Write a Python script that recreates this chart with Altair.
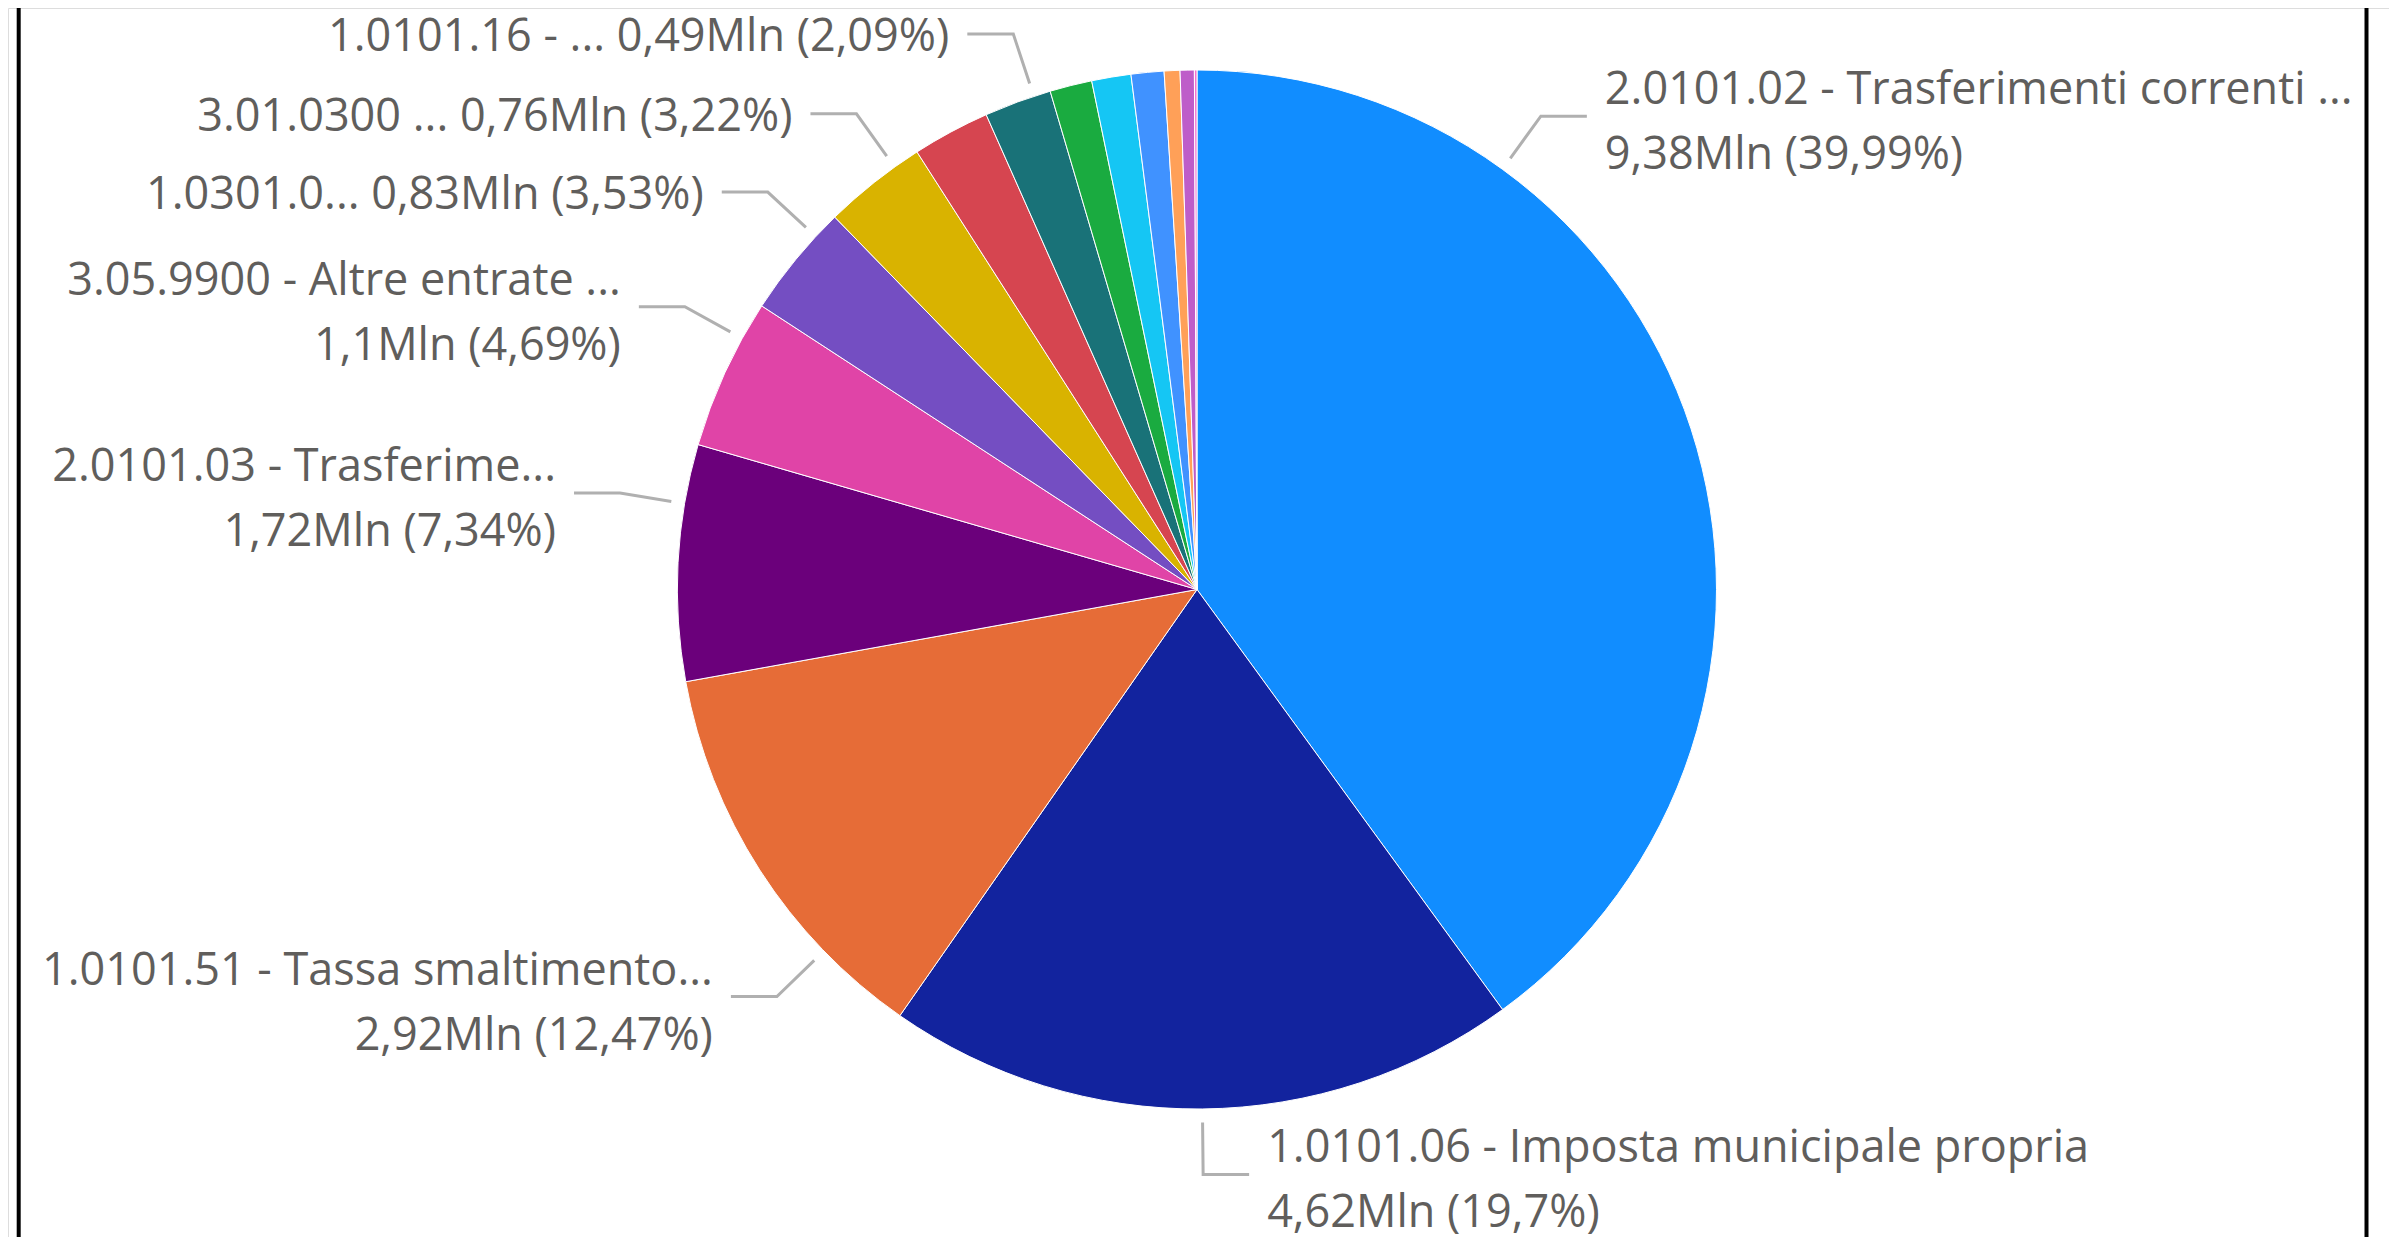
import math
import altair as alt
import pandas as pd

# ---------------- data ----------------
names = [
    "2.0101.02 - Trasferimenti correnti ...",
    "1.0101.06 - Imposta municipale propria",
    "1.0101.51 - Tassa smaltimento...",
    "2.0101.03 - Trasferime...",
    "3.05.9900 - Altre entrate ...",
    "1.0301.0...",
    "3.01.0300 ...",
    "Voce 8",
    "1.0101.16 - ...",
    "Voce 10",
    "Voce 11",
    "Voce 12",
    "Voce 13",
    "Voce 14",
    "Voce 15",
]
values_mln = [9.38, 4.62, 2.92, 1.72, 1.1, 0.83, 0.76, 0.565, 0.49, 0.307, 0.286, 0.239, 0.115, 0.103, 0.019]
pct = [39.99, 19.7, 12.47, 7.34, 4.69, 3.53, 3.22, 2.41, 2.09, 1.31, 1.22, 1.02, 0.49, 0.44, 0.08]
shown = [True, True, True, True, True, True, True, False, True, False, False, False, False, False, False]

colors = ["#118DFF", "#12239E", "#E66C37", "#6B007B", "#E044A7", "#744EC2", "#D9B300",
          "#D64550", "#197278", "#1AAB40", "#15C6F4", "#4092FF", "#FFA058", "#BE5DC9", "#F472D0"]

# ---------------- layout (label placement chosen by the original renderer) ----------------
W, H = 2381, 1229
CX, CY = 1189.0, 581.5
R = 519.5
R_START, R_ELBOW = 533.0, 585.0
H_LEN, GAP = 46.0, 18.0
LINE_H = 65
leader_angle = {0: 36.0, 1: 179.4, 2: 225.9, 3: 279.5, 4: 298.9, 5: 312.8, 6: 324.4, 8: 341.7}
two_lines = {0, 1, 2, 3, 4}
FONT = "Open Sans"
FSIZE = 45
TEXT_COLOR = "#605E5C"
LINE_COLOR = "#B0B0B0"
FRAME_X = (10.7, 2358.5)


def fmt(v):
    s = ("%.2f" % v).rstrip("0").rstrip(".")
    return s.replace(".", ",")


slices = pd.DataFrame({"idx": list(range(len(names))), "name": names, "pct": pct})

line_rows, text_rows = [], []
for i, nm in enumerate(names):
    if not shown[i]:
        continue
    a = math.radians(leader_angle[i])
    sx, sy = CX + R_START * math.sin(a), CY - R_START * math.cos(a)
    ex, ey = CX + R_ELBOW * math.sin(a), CY - R_ELBOW * math.cos(a)
    side = 1 if math.sin(a) > 0 else -1
    hx = ex + side * H_LEN
    for k, (px, py) in enumerate([(sx, sy), (ex, ey), (hx, ey)]):
        line_rows.append({"name": nm, "k": k, "x": px, "y": py})
    val = f"{fmt(values_mln[i])}Mln ({fmt(pct[i])}%)"
    if i in two_lines:
        txt, ty = f"{nm}\n{val}", ey - 26
    else:
        txt, ty = f"{nm} {val}", ey + 3
    text_rows.append({"name": nm, "label": txt, "x": hx + side * GAP, "y": ty,
                      "side": "right" if side > 0 else "left"})

lines = pd.DataFrame(line_rows)
texts = pd.DataFrame(text_rows)

pie = alt.Chart(slices).mark_arc(outerRadius=R, stroke="white", strokeWidth=1).encode(
    theta=alt.Theta("pct:Q", stack=True),
    color=alt.Color("name:N", scale=alt.Scale(domain=names, range=colors), legend=None),
    order=alt.Order("idx:Q"),
    x=alt.value(CX),
    y=alt.value(CY),
)

leaders = alt.Chart(lines).mark_line(color=LINE_COLOR, strokeWidth=3).encode(
    x=alt.X("x:Q", scale=None, axis=None),
    y=alt.Y("y:Q", scale=None, axis=None),
    detail="name:N",
    order="k:Q",
)


def label_layer(side, align):
    return alt.Chart(texts).transform_filter(alt.datum.side == side).mark_text(
        font=FONT, fontSize=FSIZE, color=TEXT_COLOR, align=align, baseline="middle",
        lineBreak="\n", lineHeight=LINE_H,
    ).encode(x=alt.X("x:Q", scale=None, axis=None), y=alt.Y("y:Q", scale=None, axis=None), text="label:N")


frame_left = alt.Chart(pd.DataFrame({"e": [0]})).mark_rule(color="black", strokeWidth=4).encode(
    x=alt.value(FRAME_X[0]), y=alt.value(0), y2=alt.value(H))
frame_right = alt.Chart(pd.DataFrame({"e": [1]})).mark_rule(color="black", strokeWidth=4).encode(
    x=alt.value(FRAME_X[1]), y=alt.value(0), y2=alt.value(H))

chart = alt.layer(pie, leaders, label_layer("right", "left"), label_layer("left", "right"),
                  frame_left, frame_right).properties(
    width=W, height=H, padding=0, autosize=alt.AutoSizeParams(type="none")
).configure_view(stroke=None).configure(background="white")

chart.save("out.html", embed_options={"renderer": "svg", "actions": False})
